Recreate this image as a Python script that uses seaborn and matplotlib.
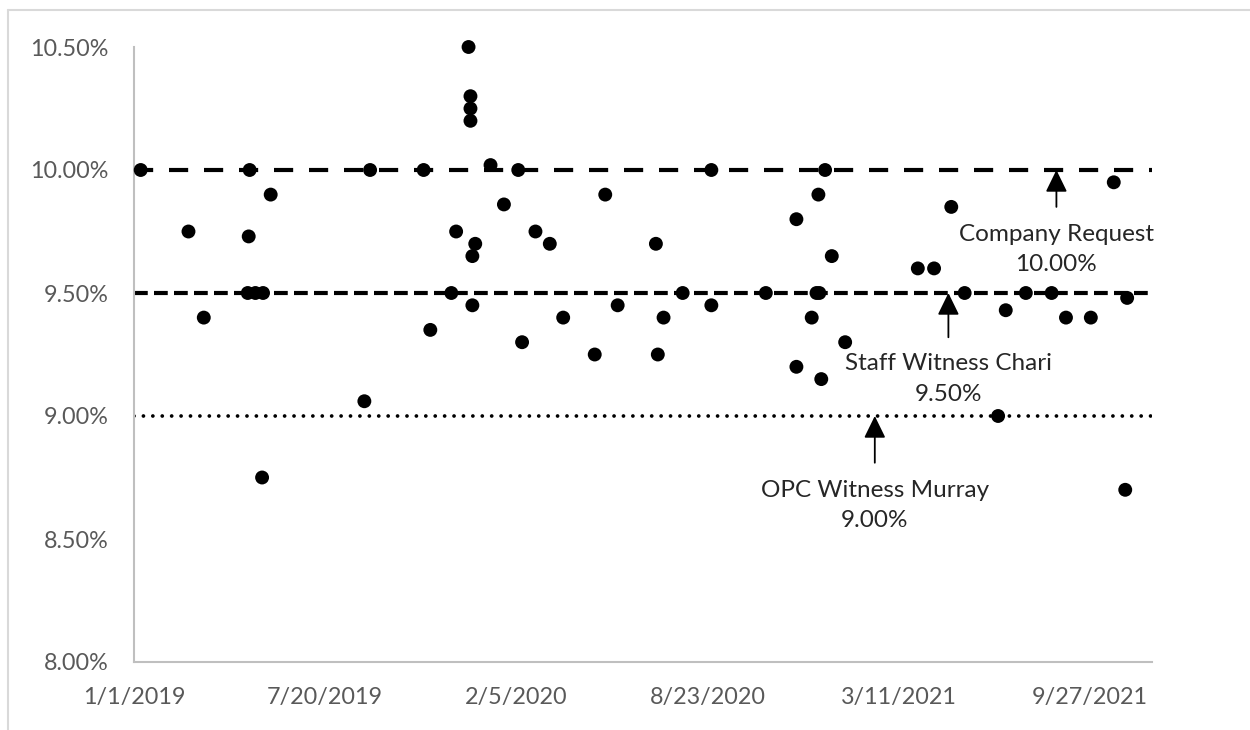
"""Allowed ROE scatter with proposal reference lines."""

import matplotlib.pyplot as plt
import pandas as pd
import seaborn as sns
from matplotlib.lines import Line2D
from matplotlib.ticker import FuncFormatter

# authorized ROE decisions (date, percent)
decision_dates = [
    "2019-01-08", "2019-02-27", "2019-03-15", "2019-04-30", "2019-05-01",
    "2019-05-02", "2019-05-08", "2019-05-15", "2019-05-16", "2019-05-24",
    "2019-08-30", "2019-09-05", "2019-10-31", "2019-11-07", "2019-11-29",
    "2019-12-04", "2019-12-17", "2019-12-19", "2019-12-19", "2019-12-19",
    "2019-12-21", "2019-12-21", "2019-12-24", "2020-01-09", "2020-01-23",
    "2020-02-07", "2020-02-11", "2020-02-25", "2020-03-11", "2020-03-25",
    "2020-04-27", "2020-05-08", "2020-05-21", "2020-06-30", "2020-07-02",
    "2020-07-08", "2020-07-28", "2020-08-27", "2020-08-27", "2020-10-23",
    "2020-11-24", "2020-11-24", "2020-12-10", "2020-12-15", "2020-12-17",
    "2020-12-18", "2020-12-20", "2020-12-24", "2020-12-31", "2021-01-14",
    "2021-03-31", "2021-04-17", "2021-05-05", "2021-05-19", "2021-06-23",
    "2021-07-01", "2021-07-22", "2021-08-18", "2021-09-02", "2021-09-28",
    "2021-10-22", "2021-11-03", "2021-11-05",
]
roe = [
    10.00, 9.75, 9.40, 9.50, 9.73,
    10.00, 9.50, 8.75, 9.50, 9.90,
    9.06, 10.00, 10.00, 9.35, 9.50,
    9.75, 10.50, 10.30, 10.25, 10.20,
    9.65, 9.45, 9.70, 10.02, 9.86,
    10.00, 9.30, 9.75, 9.70, 9.40,
    9.25, 9.90, 9.45, 9.70, 9.25,
    9.40, 9.50, 10.00, 9.45, 9.50,
    9.80, 9.20, 9.40, 9.50, 9.90,
    9.50, 9.15, 10.00, 9.65, 9.30,
    9.60, 9.60, 9.85, 9.50, 9.00,
    9.43, 9.50, 9.50, 9.40, 9.40,
    9.95, 8.70, 9.48,
]

# proposals drawn as horizontal lines
ref_names = ["Company Request", "Staff Witness Chari", "OPC Witness Murray"]
ref_values = [10.00, 9.50, 9.00]
ref_arrow_dates = ["2021-08-23", "2021-05-02", "2021-02-14"]
ref_arrow_tails = [9.85, 9.32, 8.81]
ref_text_y = [9.678, 9.15, 8.635]

x_start = pd.Timestamp("2019-01-01")
x_end = pd.Timestamp("2021-12-01")
tick_dates = [x_start + pd.Timedelta(days=200 * k) for k in range(6)]
y_ticks = [8.0, 8.5, 9.0, 9.5, 10.0, 10.5]

sns.set_theme(style="white")
plt.rcParams["font.family"] = ["Lato", "DejaVu Sans"]

df = pd.DataFrame({"date": pd.to_datetime(decision_dates), "roe": roe})

fig = plt.figure(figsize=(12.5, 7.3), dpi=100)
ax = fig.add_axes([134 / 1250, 68 / 730, 1018 / 1250, 615 / 730])

line_styles = [
    dict(lw=3.0, dashes=(4.6, 3.8), dash_capstyle="butt"),
    dict(lw=3.0, dashes=(3.3, 1.5), dash_capstyle="butt"),
    dict(lw=2.7, dashes=(0.01, 2.5), dash_capstyle="round"),
]
for val, st in zip(ref_values, line_styles):
    ax.axhline(val, color="black", zorder=1, **st)

sns.scatterplot(data=df, x="date", y="roe", color="black", s=100,
                edgecolor="none", ax=ax, zorder=3, legend=False, clip_on=False)

for name, val, d, tail, ty in zip(ref_names, ref_values, ref_arrow_dates,
                                  ref_arrow_tails, ref_text_y):
    xd = pd.Timestamp(d)
    ax.annotate("", xy=(xd, val), xytext=(xd, tail),
                arrowprops=dict(arrowstyle="-|>,head_length=0.45,head_width=0.22",
                                color="black", lw=1.3, mutation_scale=30,
                                shrinkA=0, shrinkB=0), zorder=4)
    ax.text(xd, ty, f"{name}\n{val:.2f}%", ha="center", va="center",
            fontsize=17.5, color="#262626", linespacing=1.55, zorder=4)

ax.set_xlim(x_start, x_end)
ax.set_ylim(8.0, 10.5)
ax.set_xticks(tick_dates)
ax.set_xticklabels([f"{d.month}/{d.day}/{d.year}" for d in tick_dates])
ax.set_yticks(y_ticks)
ax.yaxis.set_major_formatter(FuncFormatter(lambda v, _: f"{v:.2f}%"))
ax.set_xlabel("")
ax.set_ylabel("")

ax.tick_params(axis="both", length=0, labelsize=16.8, labelcolor="#595959")
ax.tick_params(axis="y", pad=18)
ax.tick_params(axis="x", pad=18)
for side in ["top", "right"]:
    ax.spines[side].set_visible(False)
for side in ["left", "bottom"]:
    ax.spines[side].set_color("#BFBFBF")
    ax.spines[side].set_linewidth(1.5)

# chart-area border seen on top and left
fig.add_artist(Line2D([8 / 1250, 1], [720 / 730, 720 / 730], color="#D9D9D9", lw=1.5))
fig.add_artist(Line2D([8 / 1250, 8 / 1250], [0, 720 / 730], color="#D9D9D9", lw=1.5))

fig.savefig("out.png", dpi=100)
plt.close(fig)
